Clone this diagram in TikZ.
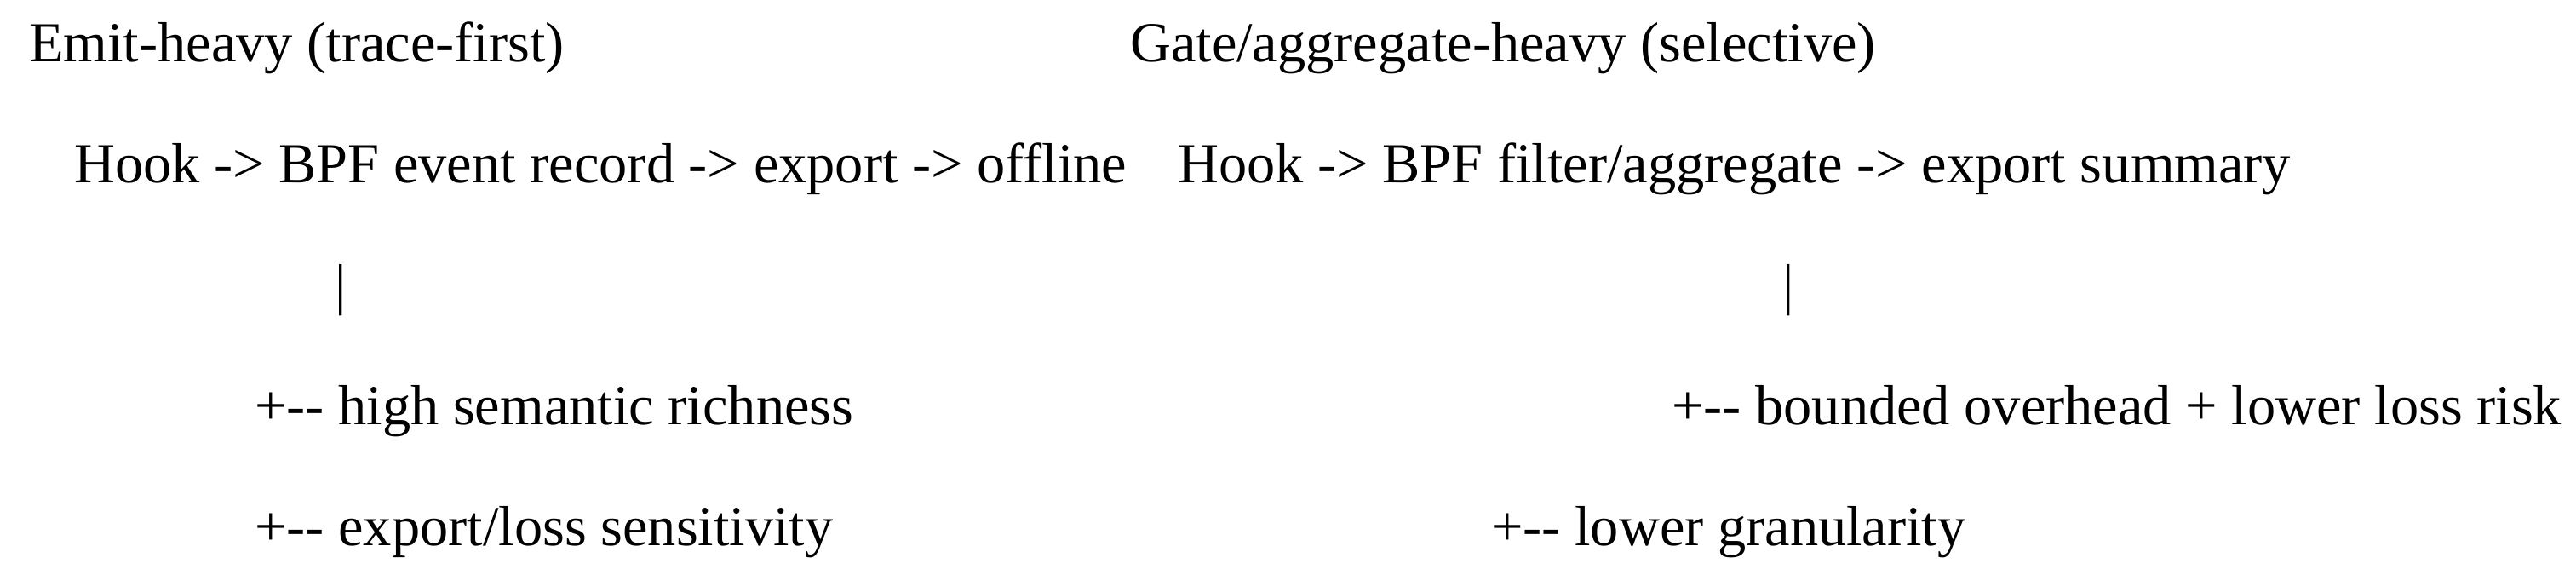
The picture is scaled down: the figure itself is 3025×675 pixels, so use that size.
\documentclass[tikz,border=0pt]{standalone}
\usepackage{fontspec}
\setmainfont{Liberation Serif}
\usepackage{tikz}
\tikzstyle{txt}=[inner sep=0pt, anchor=base west, font=\fontsize{12}{14}\selectfont]
\tikzstyle{bar}=[inner sep=0pt, anchor=base, font=\fontsize{12}{14}\selectfont]

\begin{document}
\begin{tikzpicture}[x=0.1807pt, y=-0.1807pt]
    \useasboundingbox (0,0) rectangle (3025,675);

    % left column: emit-heavy
    \node [txt] (emit) at (33,73) {Emit-heavy (trace-first)};
    \node [txt] (emitflow) at (86,215) {Hook -> BPF event record -> export -> offline};
    \node [bar] (emitbar) at (400,357) {|};
    \node [txt] (rich) at (298,499) {+-{}- high semantic richness};
    \node [txt] (loss) at (298,641) {+-{}- export/loss sensitivity};

    % right column: gate/aggregate-heavy
    \node [txt] (gate) at (1326,73) {Gate/aggregate-heavy (selective)};
    \node [txt] (gateflow) at (1382,215) {Hook -> BPF filter/aggregate -> export summary};
    \node [bar] (gatebar) at (2100,357) {|};
    \node [txt] (bounded) at (1962,499) {+-{}- bounded overhead + lower loss risk};
    \node [txt] (gran) at (1750,641) {+-{}- lower granularity};
\end{tikzpicture}
\end{document}
